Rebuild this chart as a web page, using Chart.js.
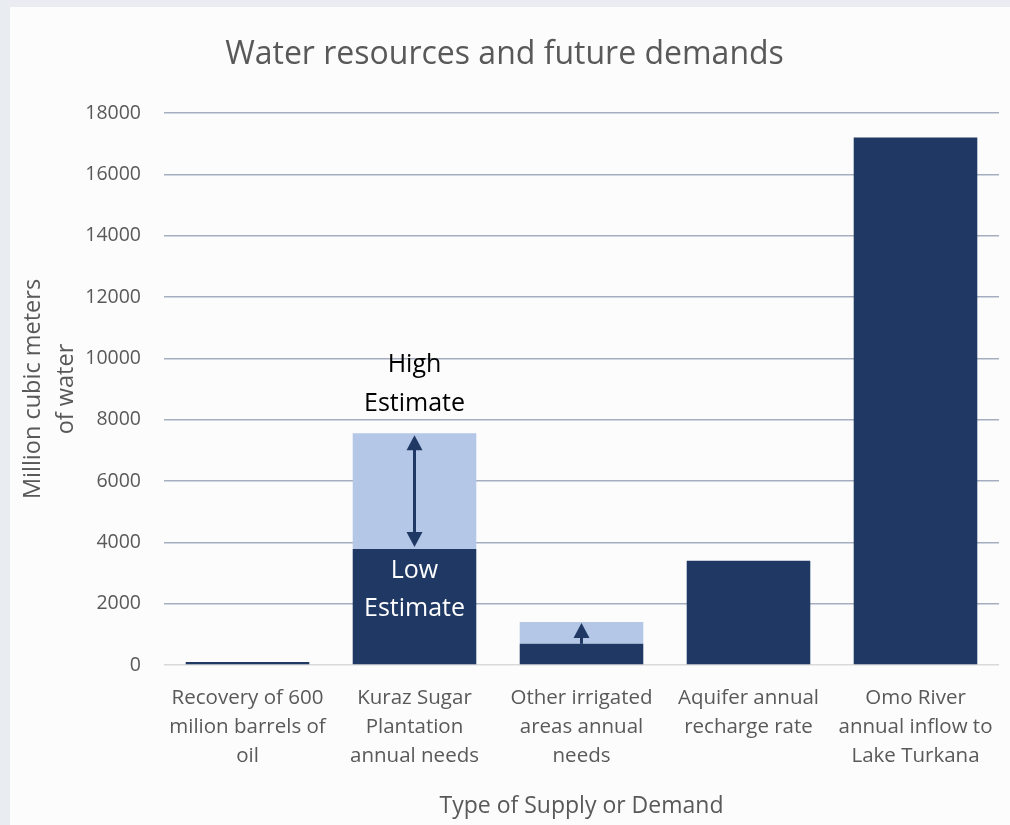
<!DOCTYPE html>
<html>
<head>
<meta charset="utf-8">
<script src="https://cdn.jsdelivr.net/npm/chart.js@4.4.1/dist/chart.umd.min.js"></script>
<style>
  html, body { margin: 0; padding: 0; background: #e9ecf1; }
  #card { position: absolute; left: 10px; top: 7px; width: 1000px; height: 818px; background: #fcfcfd; }
</style>
</head>
<body>
<div id="card"><canvas id="waterChart"></canvas></div>
<script>
const categories = [
  ["Recovery of 600", "milion barrels of", "oil"],
  ["Kuraz Sugar", "Plantation", "annual needs"],
  ["Other irrigated", "areas annual", "needs"],
  ["Aquifer annual", "recharge rate"],
  ["Omo River", "annual inflow to", "Lake Turkana"]
];
// low estimate (or single value) and high estimate totals
const lowValues = [100, 3780, 690, 3400, 17200];
const highValues = [100, 7560, 1400, 3400, 17200];
const yTicks = [0, 2000, 4000, 6000, 8000, 10000, 12000, 14000, 16000, 18000];

const extraValues = highValues.map((h, i) => h - lowValues[i]);

const dark = "#1f3864";
const light = "#b4c7e7";
const txt = "#595959";
const fontFam = "'Open Sans', sans-serif";

// arrows + estimate labels, placed from the data through the scales
const estimatePlugin = {
  id: "estimates",
  afterDatasetsDraw(chart) {
    const ctx = chart.ctx;
    const x = chart.scales.x;
    const y = chart.scales.y;
    ctx.save();
    ctx.strokeStyle = dark;
    ctx.fillStyle = dark;
    ctx.lineWidth = 3;

    function head(cx, cy, dir) {
      ctx.beginPath();
      ctx.moveTo(cx, cy);
      ctx.lineTo(cx - 8, cy - dir * 15);
      ctx.lineTo(cx + 8, cy - dir * 15);
      ctx.closePath();
      ctx.fill();
    }

    // Kuraz: double arrow
    let cx = x.getPixelForValue(1);
    let top = y.getPixelForValue(highValues[1]) + 2;
    let bot = y.getPixelForValue(lowValues[1]) - 2;
    ctx.beginPath();
    ctx.moveTo(cx, top + 10);
    ctx.lineTo(cx, bot - 10);
    ctx.stroke();
    head(cx, top, -1);
    head(cx, bot, 1);

    // Other irrigated: up arrow
    cx = x.getPixelForValue(2);
    top = y.getPixelForValue(highValues[2]) + 1;
    bot = y.getPixelForValue(lowValues[2]);
    ctx.beginPath();
    ctx.moveTo(cx, top + 10);
    ctx.lineTo(cx, bot);
    ctx.stroke();
    head(cx, top, -1);

    // labels
    ctx.font = "25px " + fontFam;
    ctx.textAlign = "center";
    ctx.textBaseline = "middle";
    cx = x.getPixelForValue(1);
    const hy = y.getPixelForValue(highValues[1]);
    ctx.fillStyle = "#000000";
    ctx.fillText("High", cx, hy - 68);
    ctx.fillText("Estimate", cx, hy - 29);
    const ly = y.getPixelForValue(lowValues[1]);
    ctx.fillStyle = "#ffffff";
    ctx.fillText("Low", cx, ly + 22);
    ctx.fillText("Estimate", cx, ly + 60);
    ctx.restore();
  }
};

new Chart(document.getElementById("waterChart"), {
  type: "bar",
  data: {
    labels: categories,
    datasets: [
      { label: "Low Estimate", data: lowValues, backgroundColor: dark, barPercentage: 0.74, categoryPercentage: 1 },
      { label: "High Estimate", data: extraValues, backgroundColor: light, barPercentage: 0.74, categoryPercentage: 1 }
    ]
  },
  options: {
    responsive: true,
    maintainAspectRatio: false,
    animation: false,
    layout: { padding: { left: 0, right: 11, top: 0, bottom: 0 } },
    plugins: {
      legend: { display: false },
      tooltip: { enabled: false },
      title: {
        display: true,
        text: "Water resources and future demands",
        color: txt,
        font: { family: fontFam, size: 32, weight: "normal" },
        padding: { top: 29, bottom: 38.6 }
      }
    },
    scales: {
      x: {
        stacked: true,
        grid: { display: false },
        border: { display: false },
        ticks: { color: txt, font: { family: fontFam, size: 20.5, lineHeight: 1.41 }, padding: 11, maxRotation: 0 },
        title: { display: true, text: "Type of Supply or Demand", color: txt, font: { family: fontFam, size: 23 }, padding: { top: 10, bottom: 5 } },
        afterFit(scale) { scale.height = 160; }
      },
      y: {
        stacked: true,
        min: 0,
        max: 18000,
        afterBuildTicks(scale) { scale.ticks = yTicks.map(v => ({ value: v })); },
        grid: {
          color: ctx => ctx.tick && ctx.tick.value === 0 ? "#d9d9d9" : "#a5aec0",
          lineWidth: 1.5,
          drawTicks: false
        },
        border: { display: false },
        ticks: { color: txt, font: { family: fontFam, size: 19.5 }, padding: 23, callback: v => String(v) },
        title: { display: true, text: ["Million cubic meters", "of water"], color: txt, font: { family: fontFam, size: 23.5, lineHeight: 1.4 }, padding: { top: 6.5, bottom: 4 } },
        afterFit(scale) { scale.width = 154; }
      }
    }
  },
  plugins: [estimatePlugin]
});
</script>
</body>
</html>
